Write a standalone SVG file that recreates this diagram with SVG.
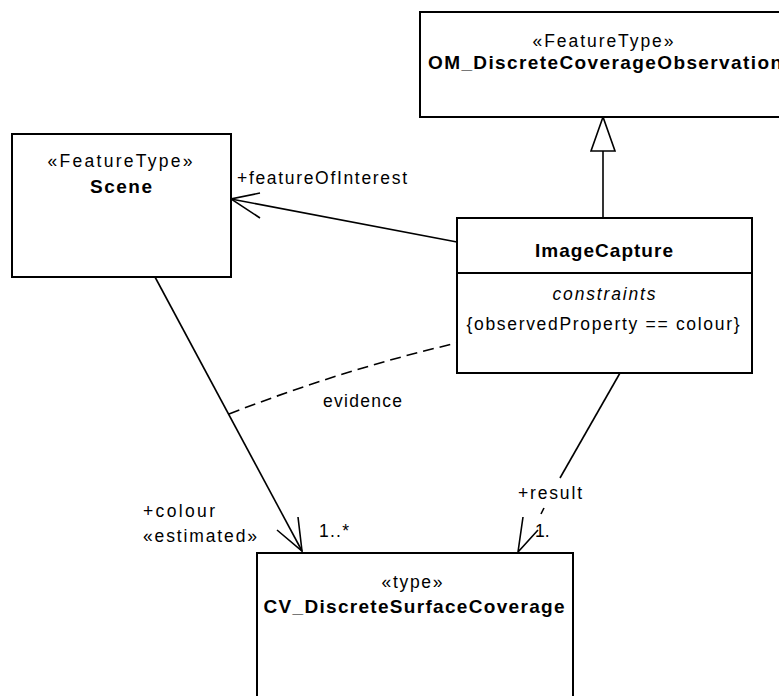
<svg xmlns="http://www.w3.org/2000/svg" width="779" height="696" viewBox="0 0 779 696">
<style>
.box{fill:#fff;stroke:#000;stroke-width:2}
.ln{fill:none;stroke:#000;stroke-width:1.6}
.dash{fill:none;stroke:#000;stroke-width:1.6;stroke-dasharray:11,6}
text{font-family:"Liberation Sans",Arial,sans-serif;font-size:17.5px;fill:#000}
.b{font-weight:bold;font-size:19px}
.c{text-anchor:middle}
.i{font-style:italic}
</style>
<rect width="779" height="696" fill="#fff"/>
<g id="connectors">
<polyline class="ln" points="603,218 603,150"/>
<polygon points="603,117 591,151 615,151" fill="#fff" stroke="#000" stroke-width="1.6"/>
<line class="ln" x1="457" y1="242" x2="231" y2="199"/>
<polyline class="ln" points="260,193 231,199 260,218"/>
<line class="ln" x1="155" y1="277" x2="302" y2="551"/>
<polyline class="ln" points="277,530 302,551 298,517"/>
<path class="dash" d="M229,414 Q343,369.5 457,343"/>
<line class="ln" x1="620" y1="373" x2="560" y2="478"/>
<line class="ln" x1="544" y1="508" x2="541" y2="514"/>
<polyline class="ln" points="523,517 518,552 538,530"/>
</g>
<g id="OM_DiscreteCoverageObservation">
<rect class="box" x="420" y="12" width="370" height="105"/>
<text x="603" y="47" class="c" textLength="141">«FeatureType»</text>
<text x="428" y="69" class="b" textLength="354">OM_DiscreteCoverageObservation</text>
</g>
<g id="Scene">
<rect class="box" x="12" y="134" width="219" height="143"/>
<text x="120" y="167" class="c" textLength="145">«FeatureType»</text>
<text x="121" y="193" class="b c" textLength="62">Scene</text>
</g>
<g id="ImageCapture">
<rect class="box" x="457" y="218" width="295" height="155"/>
<line x1="457" y1="273" x2="752" y2="273" stroke="#000" stroke-width="2"/>
<text x="604" y="257" class="b c" textLength="138">ImageCapture</text>
<text x="604" y="300" class="i c" textLength="103">constraints</text>
<text x="603" y="330" class="c" textLength="273">{observedProperty == colour}</text>
</g>
<g id="CV_DiscreteSurfaceCoverage">
<rect class="box" x="257" y="553" width="316" height="160"/>
<text x="412" y="588" class="c" textLength="61">«type»</text>
<text x="414" y="613" class="b c" textLength="301">CV_DiscreteSurfaceCoverage</text>
</g>
<g id="labels">
<text x="237" y="184" textLength="170">+featureOfInterest</text>
<text x="323" y="407" textLength="79">evidence</text>
<text x="143" y="517" textLength="72">+colour</text>
<text x="143" y="542" textLength="114">«estimated»</text>
<text x="319" y="537" textLength="30">1..*</text>
<text x="518" y="499" textLength="64">+result</text>
<text x="535" y="537">1.</text>
</g>
</svg>
